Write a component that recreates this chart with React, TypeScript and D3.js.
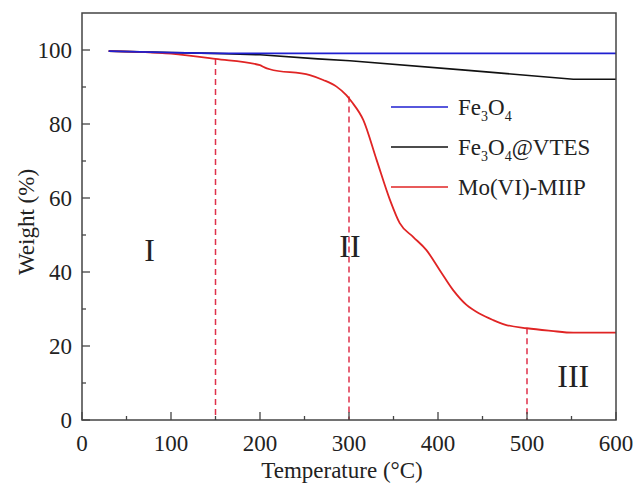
import React from "react";
import * as d3 from "d3";

const blueT = [30, 100, 150, 600];
const blueW = [99.7, 99.3, 99.1, 99.1];
const blackT = [30, 100, 150, 200, 265, 301, 434, 552, 600];
const blackW = [99.7, 99.3, 99.1, 98.7, 97.6, 97.1, 94.5, 92.1, 92.1];
const redT = [30, 100, 150, 200, 205, 211, 256, 271, 286, 297, 303, 316, 331, 346, 357, 372, 387, 402, 417, 432, 447, 462, 475, 500, 527, 552, 600];
const redW = [99.7, 99.0, 97.6, 95.9, 95.3, 94.8, 93.2, 91.9, 90.1, 87.8, 86.0, 81.1, 70.3, 59.5, 53.2, 49.5, 45.9, 40.5, 35.1, 31.1, 28.7, 27.0, 25.8, 24.8, 24.1, 23.6, 23.6];
const dashT = [150, 300, 500];
const dashTop = [97.6, 87.4, 24.8];
const xTicks = [0, 100, 200, 300, 400, 500, 600];
const xMinor = [50, 150, 250, 350, 450, 550];
const yTicks = [0, 20, 40, 60, 80, 100];
const yMinor = [10, 30, 50, 70, 90];
const regionLabels = ["I", "II", "III"];
const regionT = [76, 301, 552];
const regionW = [43, 44, 9];

const W = 638, H = 487;
const m = { l: 82, r: 22, t: 13, b: 67 };
const FONT = "'Liberation Serif', 'Times New Roman', serif";

export default function App() {
  const x = d3.scaleLinear().domain([0, 600]).range([m.l, W - m.r]);
  const y = d3.scaleLinear().domain([0, 110]).range([H - m.b, m.t]);
  const lineLin = d3.line<[number, number]>().x(d => x(d[0])).y(d => y(d[1]));
  const lineSmooth = d3.line<[number, number]>().x(d => x(d[0])).y(d => y(d[1])).curve(d3.curveMonotoneX);
  const zip = (a: number[], b: number[]) => a.map((v, i) => [v, b[i]] as [number, number]);
  const x0 = m.l, x1 = W - m.r, y0 = H - m.b, y1 = m.t;
  const axisColor = "#444";
  const legend = [
    { color: "#1f1fd0", label: "fe" },
    { color: "#111", label: "vtes" },
    { color: "#e02424", label: "mo" },
  ];
  return (
    <svg width={W} height={H} style={{ position: "absolute", left: 0, top: 0, background: "#fff" }} fontFamily={FONT}>
      {dashT.map((t, i) => (
        <line key={"d" + i} x1={x(t)} x2={x(t)} y1={y(dashTop[i])} y2={y(0)} stroke="#e0304a" strokeWidth={1.5} strokeDasharray="6,4" />
      ))}
      <path d={lineLin(zip(blackT, blackW)) || ""} fill="none" stroke="#111" strokeWidth={1.6} />
      <path d={lineSmooth(zip(redT, redW)) || ""} fill="none" stroke="#e02424" strokeWidth={1.8} />
      <path d={lineLin(zip(blueT, blueW)) || ""} fill="none" stroke="#1f1fd0" strokeWidth={1.6} />
      {/* frame */}
      <rect x={x0} y={y1} width={x1 - x0} height={y0 - y1} fill="none" stroke={axisColor} strokeWidth={1.5} />
      {xTicks.map(t => (
        <g key={"xt" + t}>
          <line x1={x(t)} x2={x(t)} y1={y0} y2={y0 - 8} stroke={axisColor} strokeWidth={1.3} />
          <text x={x(t)} y={451} textAnchor="middle" fontSize={23} fill="#222">{t}</text>
        </g>
      ))}
      {xMinor.map(t => (
        <line key={"xm" + t} x1={x(t)} x2={x(t)} y1={y0} y2={y0 - 4} stroke={axisColor} strokeWidth={1.3} />
      ))}
      {yTicks.map(t => (
        <g key={"yt" + t}>
          <line x1={x0} x2={x0 + 8} y1={y(t)} y2={y(t)} stroke={axisColor} strokeWidth={1.3} />
          <text x={72} y={y(t)} dy="0.35em" textAnchor="end" fontSize={23} fill="#222">{t}</text>
        </g>
      ))}
      {yMinor.map(t => (
        <line key={"ym" + t} x1={x0} x2={x0 + 4} y1={y(t)} y2={y(t)} stroke={axisColor} strokeWidth={1.3} />
      ))}
      <text x={342} y={478} textAnchor="middle" fontSize={23} fill="#222">Temperature (°C)</text>
      <text transform={`translate(34,222) rotate(-90)`} textAnchor="middle" fontSize={23} fill="#222">Weight (%)</text>
      {regionLabels.map((s, i) => (
        <text key={s} x={x(regionT[i])} y={y(regionW[i])} textAnchor="middle" fontSize={32} fill="#222">{s}</text>
      ))}
      {legend.map((l, i) => {
        const ly = 107 + i * 40;
        return (
          <g key={l.label}>
            <line x1={391} x2={448} y1={ly} y2={ly} stroke={l.color} strokeWidth={1.6} />
            <text x={458} y={ly + 8} fontSize={23} fill="#222">
              {l.label === "mo" ? "Mo(VI)-MIIP" : (
                <>
                  Fe<tspan fontSize={14} dy={6}>3</tspan><tspan dy={-6}>O</tspan><tspan fontSize={14} dy={6}>4</tspan>
                  {l.label === "vtes" ? <tspan dy={-6}>@VTES</tspan> : null}
                </>
              )}
            </text>
          </g>
        );
      })}
    </svg>
  );
}
